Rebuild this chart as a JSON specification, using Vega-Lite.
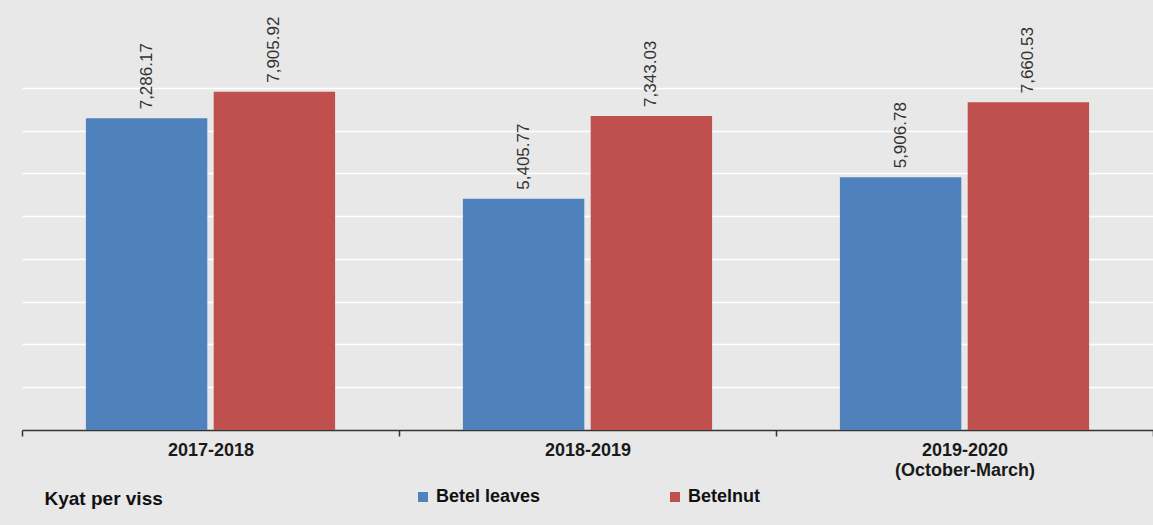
{
  "$schema": "https://vega.github.io/schema/vega-lite/v6.json",
  "width": 1131,
  "height": 385,
  "autosize": {"type": "none"},
  "padding": {"left": 22, "top": 45, "right": 0, "bottom": 95},
  "background": "#e8e8e8",
  "config": {"view": {"stroke": null}, "font": "Liberation Sans"},
  "data": {
    "values": [
      {"year": "2017-2018", "product": "Betel leaves", "price": 7286.17},
      {"year": "2017-2018", "product": "Betelnut", "price": 7905.92},
      {"year": "2018-2019", "product": "Betel leaves", "price": 5405.77},
      {"year": "2018-2019", "product": "Betelnut", "price": 7343.03},
      {"year": "2019-2020 (October-March)", "product": "Betel leaves", "price": 5906.78},
      {"year": "2019-2020 (October-March)", "product": "Betelnut", "price": 7660.53}
    ]
  },
  "encoding": {
    "x": {
      "field": "year",
      "type": "nominal",
      "sort": null,
      "scale": {"paddingInner": 0, "paddingOuter": 0},
      "axis": {
        "title": "Kyat per viss",
        "titleAnchor": "start",
        "titleAlign": "left",
        "titleBaseline": "middle",
        "titleX": 22,
        "titleY": 68,
        "titleFontSize": 19,
        "titleFontWeight": "bold",
        "titleColor": "#111111",
        "labelAngle": 0,
        "labelFontWeight": "bold",
        "labelFontSize": 18,
        "labelColor": "#1a1a1a",
        "labelPadding": 5,
        "labelLineHeight": 20,
        "labelExpr": "datum.label == '2019-2020 (October-March)' ? ['2019-2020', '(October-March)'] : datum.label",
        "domainColor": "#333333",
        "domainWidth": 1.5,
        "tickColor": "#333333",
        "tickWidth": 1.5,
        "tickSize": 6,
        "tickBand": "extent"
      }
    },
    "xOffset": {
      "field": "product",
      "type": "nominal",
      "sort": ["Betel leaves", "Betelnut"],
      "scale": {"paddingInner": 0.05, "paddingOuter": 0.5}
    },
    "y": {
      "field": "price",
      "type": "quantitative",
      "scale": {"domain": [0, 9000], "nice": false},
      "axis": {
        "title": null,
        "labels": false,
        "ticks": false,
        "domain": false,
        "grid": true,
        "gridColor": "#ffffff",
        "gridWidth": 1.5,
        "values": [1000, 2000, 3000, 4000, 5000, 6000, 7000, 8000]
      }
    }
  },
  "layer": [
    {
      "mark": {"type": "bar"},
      "encoding": {
        "color": {
          "field": "product",
          "type": "nominal",
          "sort": ["Betel leaves", "Betelnut"],
          "scale": {"domain": ["Betel leaves", "Betelnut"], "range": ["#4f81bd", "#c0504d"]},
          "legend": {
            "title": null,
            "orient": "none",
            "legendX": 392,
            "legendY": 443,
            "direction": "horizontal",
            "symbolType": "square",
            "symbolSize": 100,
            "symbolStrokeWidth": 0,
            "labelFontSize": 18,
            "labelFontWeight": "bold",
            "labelColor": "#111111",
            "labelOffset": 4,
            "columnPadding": 125
          }
        }
      }
    },
    {
      "mark": {"type": "text", "angle": 270, "align": "left", "baseline": "middle", "dx": 9, "fontSize": 17, "color": "#333333"},
      "encoding": {
        "text": {"field": "price", "type": "quantitative", "format": ",.2f"}
      }
    }
  ]
}
